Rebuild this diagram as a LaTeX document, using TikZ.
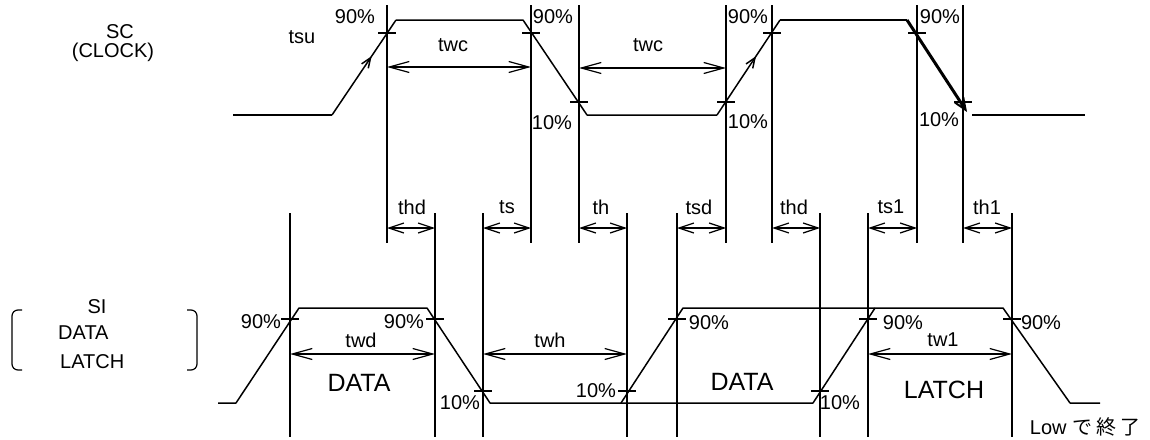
\documentclass[tikz,border=0pt]{standalone}
\usepackage{fontspec}
\setmainfont{Liberation Sans}
\newfontfamily\jpfont{Noto Sans CJK JP}
\usetikzlibrary{arrows.meta,decorations.markings}
\begin{document}
\begin{tikzpicture}[x=1pt,y=-1pt,
  sig/.style={line width=1.5pt,line join=round},
  thicksig/.style={line width=3pt,-{Straight Barb[length=12pt,width=10pt,line width=2pt]}},
  vline/.style={line width=1.2pt},
  tickmark/.style={line width=1.2pt},
  dimarrow/.style={line width=1.2pt,{Straight Barb[length=15pt,width=10pt]}-{Straight Barb[length=15pt,width=10pt]}},
  widearrow/.style={line width=1.2pt,{Straight Barb[length=20pt,width=11pt]}-{Straight Barb[length=20pt,width=11pt]}},
  midarrow/.style={postaction={decorate},decoration={markings,mark=at position 0.62 with {\arrow{Straight Barb[length=10pt,width=8pt]}}}},
  lbl/.style={font=\fontsize{20}{24}\selectfont,inner sep=0pt},
  biglbl/.style={font=\fontsize{25}{28}\selectfont,inner sep=0pt},
  brk/.style={line width=1.2pt,rounded corners=6pt}]
\useasboundingbox (0,0) rectangle (1150,439);

% ---------- SC (clock) ----------
\coordinate (c0) at (233,115);
\coordinate (c1) at (332,115);
\coordinate (c2) at (396,20);
\coordinate (c3) at (523,20);
\coordinate (c4) at (587,115);
\coordinate (c5) at (717,115);
\coordinate (c6) at (780,20);
\coordinate (c7) at (907,20);
\coordinate (c8) at (967,112);
\coordinate (c9) at (972,115);
\coordinate (c10) at (1085,115);
\draw[sig] (c0) -- (c1);
\draw[sig,midarrow] (c1) -- (c2);
\draw[sig] (c2) -- (c3) -- (c4) -- (c5);
\draw[sig,midarrow] (c5) -- (c6);
\draw[sig] (c6) -- (c7);
\draw[thicksig] (c7) -- (c8);
\draw[sig] (c9) -- (c10);

% ---------- SI (data/latch) ----------
\coordinate (d0) at (218,403);
\coordinate (d1) at (236,403);
\coordinate (d2) at (299,308);
\coordinate (d3) at (427,308);
\coordinate (d4) at (490,403);
\coordinate (d5) at (813,403);
\coordinate (d6) at (621,403);
\coordinate (d7) at (683,308);
\coordinate (d8) at (1003,308);
\coordinate (d9) at (1070,403);
\coordinate (d10) at (1100,403);
\coordinate (d11) at (875,308);
\draw[sig] (d0) -- (d1) -- (d2) -- (d3) -- (d4) -- (d5) -- (d11);
\draw[sig] (d6) -- (d7) -- (d8) -- (d9) -- (d10);

% ---------- vertical reference lines ----------
\foreach \n/\x in {t1/387,t2/531,t3/579,t4/726,t5/772,t6/917,t7/963}{
  \coordinate (\n a) at (\x,5);
  \coordinate (\n b) at (\x,243);
  \draw[vline] (\n a) -- (\n b);
}
\foreach \n/\x in {b1/290,b2/435,b3/483,b4/627,b5/677,b6/820,b7/868,b8/1012}{
  \coordinate (\n a) at (\x,213);
  \coordinate (\n b) at (\x,437);
  \draw[vline] (\n a) -- (\n b);
}

% ---------- ticks ----------
\foreach \x/\y in {387/33,531/33,579/102,726/102,772/33,917/33,963/102,
                   290/319,435/319,483/391,627/391,677/319,820/391,868/319,1012/319}{
  \draw[tickmark] (\x,\y) ++(-9,0) -- ++(18,0);
}

% ---------- width arrows ----------
\draw[widearrow] (387,67) coordinate (tw1l) -- (531,67) coordinate (tw1r);
\draw[widearrow] (579,68) coordinate (tw2l) -- (726,68) coordinate (tw2r);
\draw[widearrow] (290,354) coordinate (twdl) -- (435,354) coordinate (twdr);
\draw[widearrow] (483,354) coordinate (twhl) -- (627,354) coordinate (twhr);
\draw[widearrow] (868,354) coordinate (twll) -- (1012,354) coordinate (twlr);

% ---------- middle timing arrows ----------
\foreach \n/\a/\b in {m1/387/435,m2/483/531,m3/579/627,m4/677/726,m5/772/820,m6/868/917,m7/963/1012}{
  \coordinate (\n l) at (\a,228);
  \coordinate (\n r) at (\b,228);
  \draw[dimarrow] (\n l) -- (\n r);
}
\node[lbl] (lthd1) at (412,207) {thd};
\node[lbl] (lts)   at (507,207) {ts};
\node[lbl] (lth)   at (601,207) {th};
\node[lbl] (ltsd)  at (699,207) {tsd};
\node[lbl] (lthd2) at (794,207) {thd};
\node[lbl] (lts1)  at (891,207) {ts1};
\node[lbl] (lth1)  at (987,207) {th1};

% ---------- SC labels ----------
\node[lbl] (sc) at (120,32) {SC};
\node[lbl] (clock) at (113,52) {(CLOCK)};
\node[lbl] (tsu) at (302,37) {tsu};
\node[lbl] (p1) at (355,17) {90\%};
\node[lbl] (twc1) at (453,45) {twc};
\node[lbl] (p2) at (553,17) {90\%};
\node[lbl] (p3) at (552,123) {10\%};
\node[lbl] (twc2) at (648,45) {twc};
\node[lbl] (p4) at (748,17) {90\%};
\node[lbl] (p5) at (748,122) {10\%};
\node[lbl] (p6) at (940,17) {90\%};
\node[lbl] (p7) at (939,120) {10\%};

% ---------- SI labels ----------
\node[lbl] (si) at (97,307) {SI};
\node[lbl,anchor=west] (sidata) at (58,333) {DATA};
\node[lbl,anchor=west] (silatch) at (60,362) {LATCH};
\draw[brk] (22,310) -- (12,310) -- (12,370) -- (22,370);
\draw[brk] (187,310) -- (197,310) -- (197,370) -- (187,370);

\node[lbl] (q1) at (261,322) {90\%};
\node[lbl] (q2) at (404,322) {90\%};
\node[lbl] (twd) at (361,340) {twd};
\node[biglbl] (data1) at (359,383) {DATA};
\node[lbl] (q3) at (460,403) {10\%};
\node[lbl] (twh) at (550,340) {twh};
\node[lbl] (q4) at (596,391) {10\%};
\node[lbl] (q5) at (709,323) {90\%};
\node[biglbl] (data2) at (742,382) {DATA};
\node[lbl] (q6) at (840,403) {10\%};
\node[lbl] (q7) at (903,323) {90\%};
\node[lbl] (tw1) at (943,340) {tw1};
\node[biglbl] (latch) at (944,390) {LATCH};
\node[lbl] (q8) at (1041,323) {90\%};
\node[lbl] (low) at (1085,427) {Low {\jpfont で\hspace{4pt}終\hspace{4pt}了}};
\end{tikzpicture}
\end{document}
